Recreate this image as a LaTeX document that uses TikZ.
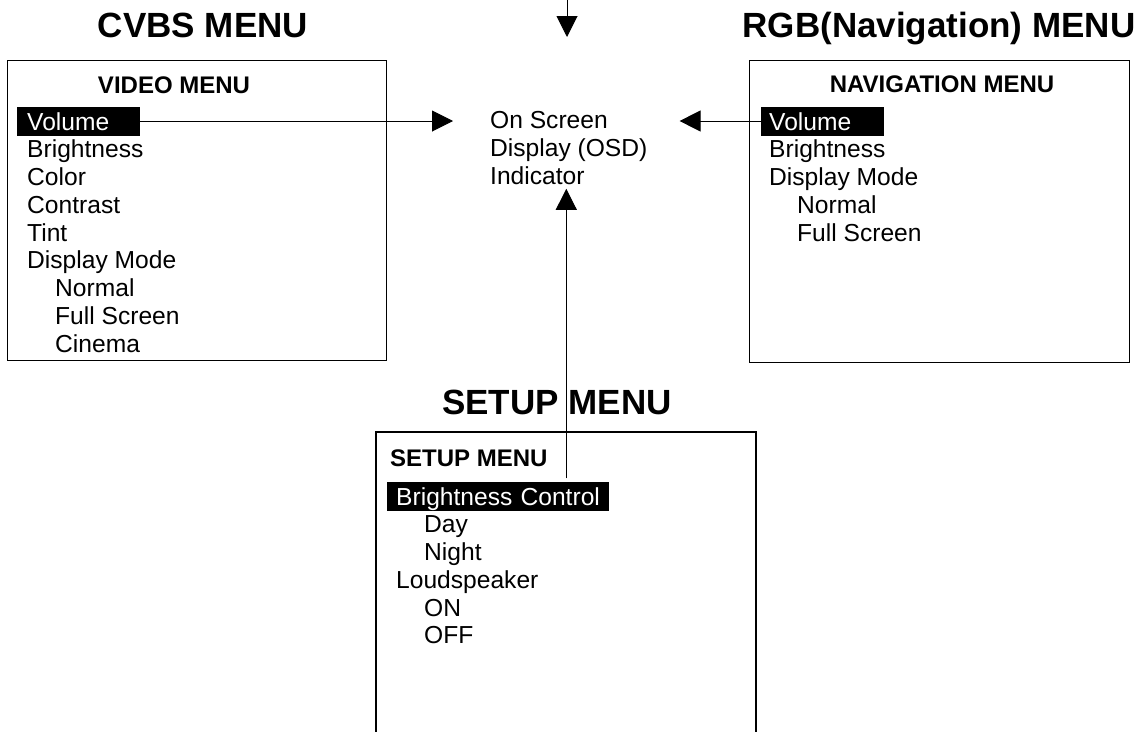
\documentclass[tikz,border=0pt]{standalone}
\usepackage{fontspec}
\setmainfont{Liberation Sans}
\usetikzlibrary{arrows.meta, positioning, calc}

\begin{document}
\begin{tikzpicture}[x=1pt, y=-1pt,
        bigtitle/.style={anchor=base, font=\fontsize{35}{40}\selectfont\bfseries, inner sep=0pt},
        boxtitle/.style={anchor=base, font=\fontsize{24}{28}\selectfont\bfseries, inner sep=0pt},
        item/.style={anchor=base west, font=\fontsize{24.6}{28}\selectfont, inner sep=0pt},
        hilite/.style={anchor=base west, fill=black, text=white, font=\fontsize{24.6}{28}\selectfont, inner ysep=0pt, text height=23.5pt, text depth=5.5pt, align=left},
        menubox/.style={draw, line width=1.2pt, anchor=north west, inner sep=0pt},
        arr/.style={-{Triangle[length=21pt, width=21pt]}, line width=1pt}
    ]
        \useasboundingbox (0,0) rectangle (1146,731);

        % titles
        \node[bigtitle] (cvbs) at (203,37) {CVBS MENU};
        \node[bigtitle] (rgb) at (939,37) {RGB(Navigation) MENU};
        \node[bigtitle] (setup) at (557,414) {SETUP MENU};

        % CVBS menu
        \node[menubox, minimum width=379pt, minimum height=300pt] (cvbox) at (7,60) {};
        \node[boxtitle] (cvtitle) at (174,93) {VIDEO MENU};
        \node[hilite, inner xsep=10pt, text width=103pt] (cvvol) at (17,130) {Volume};
        \foreach \txt/\ind [count=\i] in {Brightness/0, Color/0, Contrast/0, Tint/0, Display Mode/0, Normal/1, Full Screen/1, Cinema/1}
            \node[item] (cv-\i) at (27+28*\ind, 130+27.75*\i) {\txt};

        % RGB menu
        \node[menubox, minimum width=380pt, minimum height=302pt] (navbox) at (749,60) {};
        \node[boxtitle] (navtitle) at (942,92) {NAVIGATION MENU};
        \node[hilite, inner xsep=8pt, text width=107pt] (navvol) at (761,130) {Volume};
        \foreach \txt/\ind [count=\i] in {Brightness/0, Display Mode/0, Normal/1, Full Screen/1}
            \node[item] (nav-\i) at (769+28*\ind, 130+27.75*\i) {\txt};

        % setup menu (box runs off the bottom)
        \draw[line width=1.2pt] (376,740) -- (376,432) -- (756,432) -- (756,740);
        \node[boxtitle, anchor=base west] (setuptitle) at (390,466) {SETUP MENU};
        \node[hilite, inner xsep=9pt, text width=204pt] (brctl) at (387,505) {Brightness Control};
        \foreach \txt/\ind [count=\i] in {Day/1, Night/1, Loudspeaker/0, ON/1, OFF/1}
            \node[item] (set-\i) at (396+28*\ind, 505+27.75*\i) {\txt};

        % OSD
        \node[item, anchor=north west, align=left, font=\fontsize{24.6}{27.75}\selectfont] (osd) at (490,111.5) {On Screen\\Display (OSD)\\Indicator};
        \coordinate (feed) at (567,0);
        \coordinate (osdfoot) at ([xshift=-2.5pt]osd.south);

        \draw[arr, shorten >=74.5pt] (feed) -- (feed |- osd.north);
        \draw[arr, shorten >=37pt] (cvvol.east) -- (cvvol.east -| osd.west);
        \draw[arr, shorten >=32pt] (navvol.west) -- (navvol.west -| osd.east);
        \draw[arr, shorten <=3pt, shorten >=4pt] (brctl.north -| osdfoot) -- (osdfoot);
    \end{tikzpicture}
\end{document}
